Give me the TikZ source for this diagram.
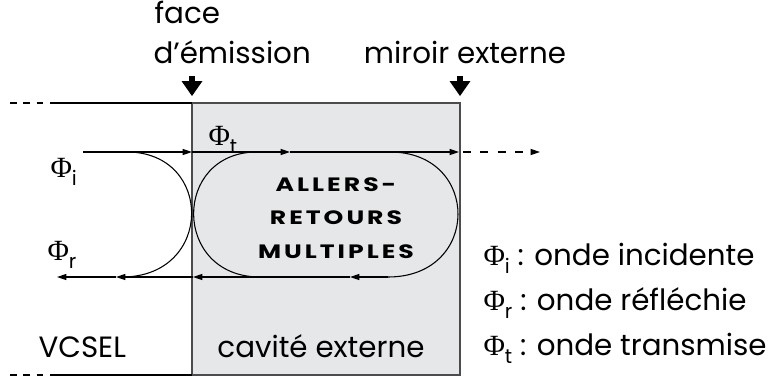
\documentclass[tikz,border=0pt]{standalone}
\usepackage{fontspec}
\setmainfont{Poppins}
\newfontfamily\phifont{Liberation Serif}
\usetikzlibrary{arrows.meta}
\definecolor{cavitygray}{RGB}{230,231,233}
\newcommand\phisub[1]{{\phifont Φ}\raisebox{-6pt}{\fontsize{15}{15}\selectfont #1}}
\newcommand\widecaps[1]{\scalebox{1.3}[1]{#1}}
\begin{document}
\begin{tikzpicture}[x=0.75pt, y=-0.75pt, thick]
    \tikzset{label/.style={inner sep=0pt, font=\fontsize{22}{26}\selectfont}}
    \tikzset{wave/.style={line width=0.8pt, -{Triangle[length=7pt,width=4.5pt]}}}
    \tikzset{loop/.style={line width=0.8pt}}
    \tikzset{marker/.style={fill=black}}
\useasboundingbox (0,0) rectangle (768,379);

%external cavity
\path[fill=cavitygray, draw=black!70, line width=1pt] (192,103) rectangle (460,375);
\coordinate (faceTop) at (192,103);
\coordinate (mirrorTop) at (460,103);

%walls of the laser
\draw[line width=0.8pt] (50,103) -- (faceTop);
\draw[line width=0.8pt, dash pattern=on 5pt off 5pt] (10,103) -- (50,103);
\draw[line width=0.8pt] (50,375) -- (192,375);
\draw[line width=0.8pt, dash pattern=on 5pt off 5pt] (10,375) -- (50,375);

%markers
\node[label, anchor=base west] (faceText) at (154,23) {face};
\node[label, anchor=base west] (emissionText) at (153,63) {d’émission};
\node[label, anchor=base] (mirrorText) at (465,63) {miroir externe};
\draw[line width=5pt] (192,76) -- (192,82);
\path[marker] (181.5,81) -- (202.5,81) -- (192,96) -- cycle;
\draw[line width=5pt] (460,76) -- (460,82);
\path[marker] (449.5,81) -- (470.5,81) -- (460,96) -- cycle;

%incident and transmitted wave
\coordinate (inStart) at (83,152);
\coordinate (inFace) at (192,152);
\coordinate (inMid) at (290,152);
\coordinate (inMirror) at (459,152);
\coordinate (outEnd) at (540,152);
\draw[wave] (inStart) -- (inFace);
\draw[wave] (inFace) -- (inMid);
\draw[wave] (inMid) -- (inMirror);
\draw[wave, dash pattern=on 6pt off 7pt] (463,152) -- (outEnd);

%reflected wave
\coordinate (backStart) at (388,277);
\coordinate (backMid) at (350,277);
\coordinate (backFace) at (193,277);
\coordinate (reMid) at (116,277);
\coordinate (reEnd) at (57,277);
\draw[wave] (backStart) -- (backMid);
\draw[wave] (backMid) -- (backFace);
\draw[wave] (backFace) -- (reMid);
\draw[wave] (reMid) -- (reEnd);

%round trips
\draw[loop] (127,152) .. controls (214,152) and (214,277) .. (122,277);
\draw[loop] (257,152) .. controls (172,152) and (172,277) .. (260,277);
\draw[loop] (390,152) .. controls (481,152) and (481,277) .. (388,277);

\node[inner sep=0pt, align=center, font=\fontsize{14.5}{25}\bfseries\addfontfeatures{LetterSpace=12}] (trips) at (336,218)
  {\widecaps{ALLERS-}\\\widecaps{RETOURS}\\\widecaps{MULTIPLES}};

%wave labels
\node[label, anchor=base west] (phiI) at (50,177) {\phisub{i}};
\node[label, anchor=base west] (phiR) at (47,260) {\phisub{r}};
\node[label, anchor=base west] (phiT) at (208,145) {\phisub{t}};

%region labels
\node[label, anchor=base west] (vcsel) at (38,357) {VCSEL};
\node[label, anchor=base] (cavity) at (321,357) {cavité externe};

%legend
\node[label, anchor=base west] (legendI) at (483,265) {\phisub{i} : onde incidente};
\node[label, anchor=base west] (legendR) at (483,310) {\phisub{r} : onde réfléchie};
\node[label, anchor=base west] (legendT) at (483,355) {\phisub{t} : onde transmise};

\end{tikzpicture}
\end{document}
